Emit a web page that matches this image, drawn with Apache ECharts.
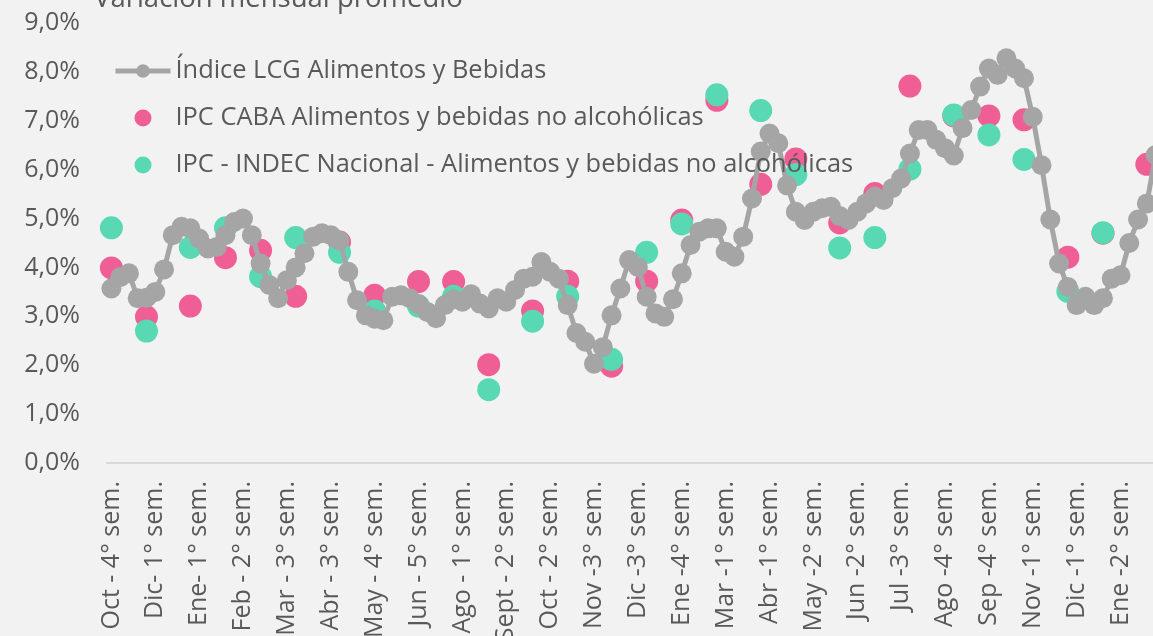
<!DOCTYPE html>
<html>
<head>
<meta charset="utf-8">
<script src="https://cdn.jsdelivr.net/npm/echarts@6/dist/echarts.min.js"></script>
<style>
  html, body { margin: 0; padding: 0; background: #F2F2F2; overflow: hidden; }
  #main { width: 1180px; height: 636px; }
</style>
</head>
<body>
<div id="main"></div>
<script>
// etiquetas visibles del eje (una cada 5 semanas)
const tickLabels = [
  'Oct - 4° sem.', 'Dic- 1° sem.', 'Ene- 1° sem.', 'Feb - 2° sem.', 'Mar - 3° sem.',
  'Abr - 3° sem.', 'May - 4° sem.', 'Jun - 5° sem.', 'Ago - 1° sem.', 'Sept - 2° sem.',
  'Oct - 2° sem.', 'Nov -3° sem.', 'Dic -3° sem.', 'Ene -4° sem.', 'Mar -1° sem.',
  'Abr -1° sem.', 'May -2° sem.', 'Jun -2° sem.', 'Jul -3° sem.', 'Ago -4° sem.',
  'Sep -4° sem.', 'Nov -1° sem.', 'Dic -1° sem.', 'Ene -2° sem.'
]

// Indice LCG semanal (%)
const lcg = [
  3.57, 3.80, 3.88, 3.37, 3.38, 3.50, 3.96, 4.66, 4.83, 4.80,
  4.59, 4.39, 4.42, 4.66, 4.93, 5.00, 4.66, 4.08, 3.64, 3.37,
  3.74, 4.00, 4.29, 4.63, 4.70, 4.66, 4.55, 3.91, 3.33, 3.02,
  2.95, 2.92, 3.40, 3.43, 3.37, 3.25, 3.09, 2.96, 3.23, 3.35,
  3.30, 3.45, 3.26, 3.16, 3.37, 3.30, 3.54, 3.77, 3.81, 4.11,
  3.91, 3.77, 3.23, 2.66, 2.48, 2.03, 2.37, 3.02, 3.57, 4.15,
  4.01, 3.40, 3.06, 2.99, 3.35, 3.88, 4.46, 4.73, 4.80, 4.80,
  4.32, 4.22, 4.63, 5.41, 6.37, 6.74, 6.54, 5.68, 5.14, 4.97,
  5.14, 5.21, 5.24, 5.05, 4.97, 5.14, 5.31, 5.45, 5.38, 5.62,
  5.82, 6.33, 6.81, 6.81, 6.61, 6.44, 6.29, 6.85, 7.22, 7.70,
  8.07, 7.94, 8.28, 8.07, 7.87, 7.08, 6.09, 4.98, 4.08, 3.60,
  3.23, 3.40, 3.23, 3.37, 3.77, 3.84, 4.50, 4.98, 5.31, 6.30
]

// semana en la que cae cada dato mensual
const monthPos = [0, 4, 9, 13, 17, 21, 26, 30, 35, 39, 43, 48, 52, 57, 61, 65, 69, 74, 78, 83, 87, 91, 96, 100, 104, 109, 113, 118]
const ipcCaba = [3.99, 2.99, 3.21, 4.20, 4.35, 3.41, 4.52, 3.43, 3.71, 3.71, 2.01, 3.11, 3.72, 1.98, 3.72, 4.97, 7.42, 5.70, 6.22, 4.91, 5.51, 7.71, 7.10, 7.10, 7.02, 4.21, 4.70, 6.11]
const ipcIndec = [4.81, 2.70, 4.41, 4.81, 3.81, 4.61, 4.31, 3.11, 3.21, 3.41, 1.50, 2.90, 3.41, 2.12, 4.31, 4.89, 7.53, 7.21, 5.90, 4.40, 4.61, 6.01, 7.12, 6.71, 6.21, 3.51, 4.71, null]

const weeks = lcg.map((v, i) => (i % 5 === 0 ? tickLabels[i / 5] : 'sem ' + i))

let myChart = echarts.init(document.getElementById('main'))
const font = 'Open Sans'
const txt = '#595959'

let option = {
  backgroundColor: '#F2F2F2',
  animation: false,
  textStyle: { fontFamily: font },
  title: {
    text: 'Variación mensual promedio',
    left: 94,
    top: -16,
    padding: 0,
    textStyle: { fontFamily: font, fontSize: 27.5, fontWeight: 'normal', color: txt, lineHeight: 30 }
  },
  legend: {
    orient: 'vertical',
    left: 113,
    top: 56,
    padding: 0,
    itemWidth: 55,
    itemHeight: 17,
    itemGap: 17,
    itemTextGap: 4,
    lineStyle: { width: 5 },
    textStyle: { fontFamily: font, fontSize: 25.4, color: txt, lineHeight: 30 },
    data: ['Índice LCG Alimentos y Bebidas', 'IPC CABA Alimentos y bebidas no alcohólicas', 'IPC - INDEC Nacional - Alimentos y bebidas no alcohólicas']
  },
  grid: {
    left: 107,
    right: 20,
    top: 23,
    bottom: 173,
    outerBoundsMode: 'none'
  },
  xAxis: {
    type: 'category',
    boundaryGap: true,
    data: weeks,
    axisLine: { lineStyle: { color: '#D9D9D9', width: 2 } },
    axisTick: { show: false },
    axisLabel: {
      interval: 4,
      rotate: 90,
      margin: 18,
      fontFamily: font,
      fontSize: 25,
      color: txt
    }
  },
  yAxis: {
    type: 'value',
    min: 0,
    max: 9,
    interval: 1,
    splitLine: { show: false },
    axisLine: { show: false },
    axisTick: { show: false },
    axisLabel: {
      margin: 27,
      fontFamily: font,
      fontSize: 25,
      color: txt,
      formatter: v => v.toFixed(1).replace('.', ',') + '%'
    }
  },
  series: [
    {
      name: 'Índice LCG Alimentos y Bebidas',
      type: 'line',
      data: lcg,
      symbol: 'circle',
      symbolSize: 20,
      showAllSymbol: true,
      lineStyle: { color: '#A5A5A5', width: 5 },
      itemStyle: { color: '#A5A5A5' },
      emphasis: { disabled: true }
    },
    {
      name: 'IPC CABA Alimentos y bebidas no alcohólicas',
      type: 'scatter',
      symbolSize: 23,
      itemStyle: { color: '#F05E96', opacity: 1 },
      data: monthPos.map((p, i) => [p, ipcCaba[i]])
    },
    {
      name: 'IPC - INDEC Nacional - Alimentos y bebidas no alcohólicas',
      type: 'scatter',
      symbolSize: 23,
      itemStyle: { color: '#58D9B3', opacity: 1 },
      data: monthPos.map((p, i) => [p, ipcIndec[i]])
    }
  ]
}

myChart.setOption(option)
</script>
</body>
</html>
